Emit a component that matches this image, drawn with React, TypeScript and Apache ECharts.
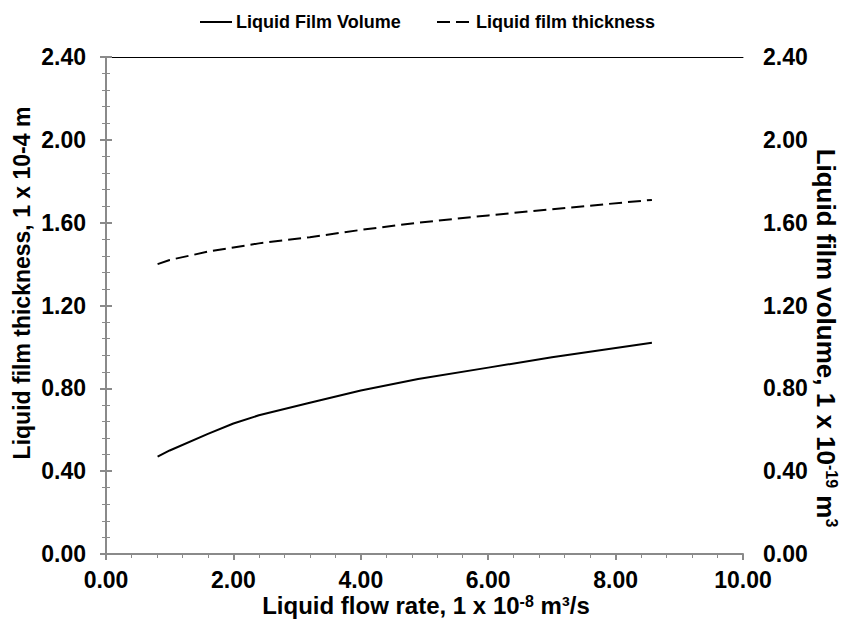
import React, { useEffect, useRef } from "react";
import * as echarts from "echarts";

const flowRate = [0.81, 1.0, 1.6, 2.0, 2.4, 3.2, 4.0, 4.9, 6.0, 7.0, 8.57];
const filmVolume = [0.47, 0.5, 0.58, 0.63, 0.67, 0.73, 0.79, 0.845, 0.9, 0.95, 1.02];
const filmThickness = [1.4, 1.42, 1.46, 1.48, 1.5, 1.53, 1.565, 1.6, 1.635, 1.665, 1.71];
const seriesNames = ["Liquid Film Volume", "Liquid film thickness"];

const FONT = "'Liberation Sans', Arial, sans-serif";
const AXIS_GRAY = "#8a8a8a";
const DASH = [13, 6];

export default function App() {
  const ref = useRef<HTMLDivElement>(null);
  useEffect(() => {
    if (!ref.current) return;
    const chart = echarts.init(ref.current, undefined, { renderer: "svg" });
    const volData = flowRate.map((x, i) => [x, filmVolume[i]]);
    const thkData = flowRate.map((x, i) => [x, filmThickness[i]]);
    const tickLabel = { fontFamily: FONT, fontWeight: "bold" as const, fontSize: 23, color: "#000" };
    const titleBase = { fontFamily: FONT, fontWeight: "bold", fontSize: 23, fill: "#000", align: "center", verticalAlign: "middle" };
    const supRich = { sup: { fontFamily: FONT, fontWeight: "bold", fontSize: 16, fill: "#000", verticalAlign: "top", padding: [0, 0, 6, 0] } };
    const yCommon = {
      type: "value" as const,
      min: 0,
      max: 2.4,
      interval: 0.4,
      splitLine: { show: false },
      axisLine: { show: true, lineStyle: { color: AXIS_GRAY, width: 2 } },
      axisTick: { show: true, inside: false, length: 6, lineStyle: { color: AXIS_GRAY, width: 2 } },
      minorTick: { show: true, splitNumber: 5, length: 4, lineStyle: { color: AXIS_GRAY, width: 1 } },
      axisLabel: { ...tickLabel, formatter: (v: number) => v.toFixed(2), margin: 20 },
    };
    const legendY = 22;
    chart.setOption({
      animation: false,
      backgroundColor: "#fff",
      textStyle: { fontFamily: FONT },
      grid: { left: 106, right: 101, top: 57, bottom: 71, containLabel: false, outerBoundsMode: "none" },
      graphic: [
        { type: "line", shape: { x1: 200, y1: legendY, x2: 232, y2: legendY }, style: { stroke: "#000", lineWidth: 2 } },
        {
          type: "text",
          x: 236,
          y: legendY,
          style: { text: seriesNames[0], fontFamily: FONT, fontWeight: "bold", fontSize: 18, fill: "#000", verticalAlign: "middle", align: "left" },
        },
        { type: "line", shape: { x1: 437, y1: legendY, x2: 473, y2: legendY }, style: { stroke: "#000", lineWidth: 2, lineDash: DASH } },
        {
          type: "text",
          x: 476,
          y: legendY,
          style: { text: seriesNames[1], fontFamily: FONT, fontWeight: "bold", fontSize: 18, fill: "#000", verticalAlign: "middle", align: "left" },
        },
        {
          type: "text",
          x: 426,
          y: 605,
          style: { ...titleBase, fontSize: 24, text: "Liquid flow rate, 1 x 10{sup|-8} m³/s", rich: supRich },
        },
        {
          type: "text",
          x: 22,
          y: 283,
          rotation: Math.PI / 2,
          style: { ...titleBase, text: "Liquid film thickness, 1 x 10-4 m" },
        },
        {
          type: "text",
          x: 826,
          y: 338,
          rotation: -Math.PI / 2,
          style: { ...titleBase, fontSize: 26, text: "Liquid film volume, 1 x 10{sup|-19} m{sup|3}", rich: supRich },
        },
      ],
      xAxis: [
        {
          type: "value",
          min: 0,
          max: 10,
          interval: 2,
          position: "bottom",
          splitLine: { show: false },
          axisLine: { show: true, onZero: false, lineStyle: { color: AXIS_GRAY, width: 2 } },
          axisTick: { show: true, inside: false, length: 6, lineStyle: { color: AXIS_GRAY, width: 2 } },
          minorTick: { show: true, splitNumber: 5, length: 4, lineStyle: { color: AXIS_GRAY, width: 1 } },
          axisLabel: { ...tickLabel, formatter: (v: number) => v.toFixed(2), margin: 14 },
        },
        {
          type: "value",
          min: 0,
          max: 10,
          position: "top",
          axisLine: { show: true, onZero: false, lineStyle: { color: "#000", width: 1 } },
          axisTick: { show: false },
          axisLabel: { show: false },
          splitLine: { show: false },
        },
      ],
      yAxis: [
        { ...yCommon, position: "left" },
        { ...yCommon, position: "right" },
      ],
      series: [
        {
          name: seriesNames[0],
          type: "line",
          data: volData,
          symbol: "none",
          lineStyle: { color: "#000", width: 2, type: "solid" },
          itemStyle: { color: "#000" },
        },
        {
          name: seriesNames[1],
          type: "line",
          data: thkData,
          symbol: "none",
          lineStyle: { color: "#000", width: 2, type: DASH },
          itemStyle: { color: "#000" },
        },
      ],
    });
    return () => chart.dispose();
  }, []);
  return <div ref={ref} style={{ position: "absolute", left: 0, top: 0, width: 844, height: 625 }} />;
}
